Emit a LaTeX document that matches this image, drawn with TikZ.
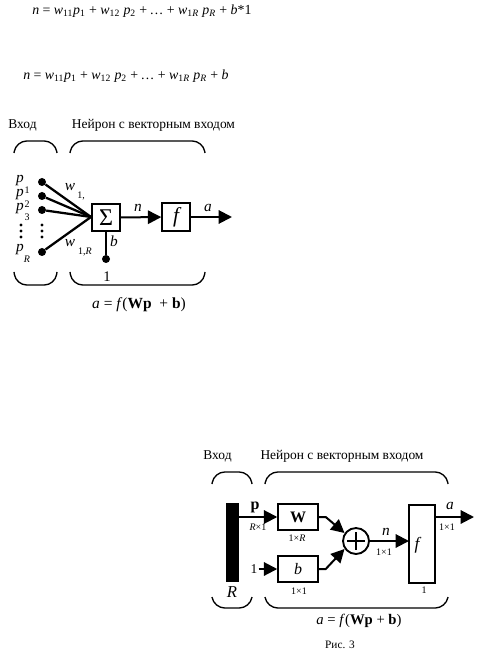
\documentclass[tikz,border=0pt]{standalone}
\usepackage{fontspec}
\setmainfont{Liberation Serif}
\usetikzlibrary{arrows.meta}
\tikzset{
  lbl/.style={inner sep=0pt,font=\fontsize{10.1pt}{12pt}\selectfont},
  eq/.style={inner sep=0pt,anchor=west,font=\fontsize{10.4pt}{13pt}\selectfont},
  frm/.style={inner sep=0pt,font=\fontsize{11pt}{13pt}\selectfont},
  sym/.style={inner sep=0pt,font=\fontsize{11.5pt}{12pt}\selectfont\itshape},
  tiny/.style={inner sep=0pt,font=\fontsize{7.5pt}{8pt}\selectfont},
  box/.style={draw,line width=1.1pt,fill=white,inner sep=0pt},
  dotn/.style={circle,fill=black,inner sep=0pt,minimum size=6pt},
  wire/.style={line width=1.7pt},
  arr/.style={line width=1.5pt,-{Triangle[length=10pt,width=10pt]}},
  brace/.style={line width=1pt,rounded corners=8pt}
}
\newcommand{\brc}[4]{\draw[brace] (#1,#3) -- (#1+2,#4) -- (#2-2,#4) -- (#2,#3);}
\begin{document}
\begin{tikzpicture}[x=0.75pt,y=-0.75pt]
\useasboundingbox (0,0) rectangle (482,655);
% equations
\node[eq] (e1) at (32,11) {\textit{n} = \textit{w}\textsubscript{11}\textit{p}\textsubscript{1} + \textit{w}\textsubscript{12} \textit{p}\textsubscript{2} +\,… + \textit{w}\textsubscript{1\textit{R}} \textit{p}\textsubscript{\textit{R}} + \textit{b}*1};
\node[eq] (e2) at (23,76) {\textit{n} = \textit{w}\textsubscript{11}\textit{p}\textsubscript{1} + \textit{w}\textsubscript{12} \textit{p}\textsubscript{2} +\,… + \textit{w}\textsubscript{1\textit{R}} \textit{p}\textsubscript{\textit{R}} + \textit{b}};
% first diagram
\node[lbl] (in1) at (22.5,125) {Вход};
\node[lbl] (ne1) at (153.5,125) {Нейрон с векторным входом};
\brc{14}{57}{153}{141}
\brc{70}{205}{153}{141}
\brc{14}{57}{272}{285}
\brc{70}{205}{272}{285}
\node[dotn] (d1) at (42,182) {};
\node[dotn] (d2) at (42,196) {};
\node[dotn] (d3) at (42,210) {};
\node[dotn] (dr) at (42,252) {};
\node[box,minimum width=28pt*0.75,minimum height=27pt*0.75] (sum) at (106,217.5) {\fontsize{18pt}{18pt}\selectfont Σ};
\node[box,minimum width=28pt*0.75,minimum height=28pt*0.75] (f1) at (176,217) {\fontsize{16pt}{16pt}\selectfont\itshape f};
\coordinate (c1) at (91,217);
\coordinate (o1) at (232,217);
\draw[wire] (d1) -- (c1);
\draw[wire] (d2) -- (c1);
\draw[wire] (d3) -- (c1);
\draw[wire] (dr) -- (c1);
\draw[arr] (sum) -- (f1);
\draw[arr] (f1) -- (o1);
\node[dotn] (db) at (106,259) {};
\draw[wire] (sum) -- (db);
\foreach \x in {21,42} \foreach \y in {225,231,237}
  \fill (\x,\y) circle (1.3pt);
\node[sym] (p1) at (20,181) {p};
\node[tiny] (p1s) at (27,190) {1};
\node[sym] (p2) at (20,195) {p};
\node[tiny] (p2s) at (27,204) {2};
\node[sym] (p3) at (20,209) {p};
\node[tiny] (p3s) at (27,217) {3};
\node[sym] (pr) at (20,250) {p};
\node[tiny,font=\fontsize{7.5pt}{8pt}\selectfont\itshape] (prs) at (27,259) {R};
\node[sym] (w1) at (70,187) {w};
\node[tiny] (w1s) at (81,196) {1,};
\node[sym] (wr) at (70,243) {w};
\node[tiny] (wrs) at (85,252) {1,\textit{R}};
\node[sym] (nb) at (114,241) {b};
\node[lbl,font=\fontsize{11pt}{12pt}\selectfont] (one1) at (107,277) {1};
\node[sym] (n1) at (138,208) {n};
\node[sym] (a1) at (208,208) {a};
\node[frm,font=\fontsize{11.6pt}{13pt}\selectfont] (fm1) at (139,305) {\textit{a} = \textit{f}(\textbf{Wp} \ + \textbf{b})};
% second diagram
\node[lbl] (in2) at (217.5,456) {Вход};
\node[lbl] (ne2) at (342,456) {Нейрон с векторным входом};
\brc{212}{252}{484}{472}
\brc{265}{448}{484}{472}
\brc{212}{252}{597}{608}
\brc{265}{448}{597}{608}
\node[fill=black,inner sep=0pt,minimum width=13pt*0.75,minimum height=79pt*0.75] (bar) at (232.5,542.5) {};
\coordinate (b1) at (239,517);
\node[box,minimum width=40pt*0.75,minimum height=26pt*0.75] (W) at (298,517) {\fontsize{12pt}{12pt}\selectfont\textbf{W}};
\node[box,minimum width=40pt*0.75,minimum height=26pt*0.75] (b) at (298,569) {\fontsize{12pt}{12pt}\selectfont\itshape b};
\node[box,circle,minimum size=26pt*0.75,line width=1.4pt] (add) at (356,541) {};
\draw[line width=1.2pt] (add.center) ++(-9,0) -- ++(18,0);
\draw[line width=1.2pt] (add.center) ++(0,-9) -- ++(0,18);
\node[box,minimum width=26pt*0.75,minimum height=78pt*0.75] (f2) at (422,544) {};
\node[sym,font=\fontsize{13pt}{13pt}\selectfont\itshape] (fl) at (417,545) {f};
\node[lbl] (oneL) at (254,569) {1};
\coordinate (o2) at (474,517);
\coordinate (fi) at (409,541);
\coordinate (fo) at (435,517);
\draw[arr] (b1) -- (W.west);
\draw[arr] (oneL.east) ++(1,0) -- (b.west);
\draw[arr] (W.east) -- ++(7,0) -- (344.5,533);
\draw[arr] (b.east) -- ++(7,0) -- (344.5,549);
\draw[arr] (add) -- (fi);
\draw[arr] (fo) -- (o2);
\node[frm,font=\fontsize{12pt}{13pt}\selectfont] (pb) at (255,507) {\textbf{p}};
\node[tiny] (s1) at (258,527) {\textit{R}×1};
\node[tiny] (s2) at (297,538) {1×\textit{R}};
\node[tiny] (s3) at (299,591) {1×1};
\node[sym] (n2) at (386,532) {n};
\node[tiny] (s4) at (384,552) {1×1};
\node[tiny] (s5) at (424,590) {1};
\node[sym] (a2) at (450,506) {a};
\node[tiny] (s6) at (447,527) {1×1};
\node[sym,font=\fontsize{12.5pt}{13pt}\selectfont\itshape] (R) at (232,592) {R};
\node[frm] (fm2) at (359,621) {\textit{a} = \textit{f}(\textbf{Wp} + \textbf{b})};
\node[tiny,font=\fontsize{8.5pt}{9pt}\selectfont] (cap) at (340,645) {Рис. 3};
\end{tikzpicture}
\end{document}
